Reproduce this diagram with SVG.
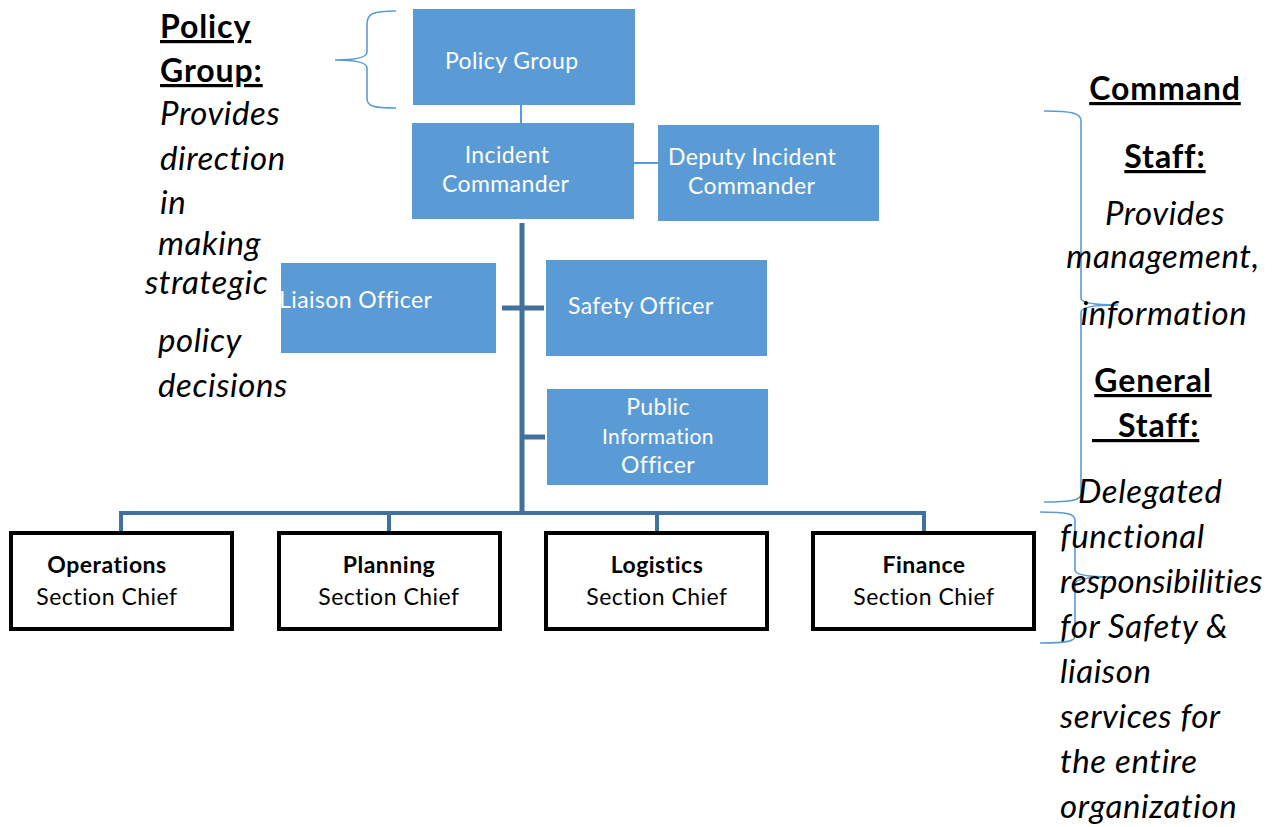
<svg xmlns="http://www.w3.org/2000/svg" width="1279" height="827" viewBox="0 0 1279 827">
<style>
.box{fill:#5B9BD5;}
.wt{fill:#fff;font-family:Lato,"Liberation Sans",sans-serif;font-size:23px;letter-spacing:0.4px;}
.sec{fill:#fff;stroke:#000;stroke-width:4;}
.st{fill:#000;font-family:Lato,"Liberation Sans",sans-serif;font-size:23px;letter-spacing:0.5px;text-anchor:middle;}
.hd{fill:#000;font-family:Lato,"Liberation Sans",sans-serif;font-size:32px;letter-spacing:0.9px;font-weight:bold;text-decoration:underline;}
.it{fill:#000;font-family:Lato,"Liberation Sans",sans-serif;font-size:33px;letter-spacing:0.6px;font-style:italic;}
.trunk{stroke:#41719C;stroke-width:5;fill:none;}
.thin{stroke:#5B9BD5;stroke-width:2;fill:none;}
.bus{stroke:#41719C;stroke-width:4;fill:none;}
.brace{stroke:#5B9BD5;stroke-width:1.6;fill:none;}
</style>
<g id="connectors">
<line class="thin" x1="521" y1="105" x2="521" y2="123"/>
<line class="thin" x1="634" y1="163" x2="658" y2="163"/>
<line class="trunk" x1="522" y1="223" x2="522" y2="512"/>
<line class="trunk" x1="502" y1="308" x2="544" y2="308"/>
<line class="trunk" x1="522" y1="437" x2="545" y2="437"/>
<path class="bus" d="M121 531 V513 H924 V531 M389 513 V531 M657 513 V531"/>
</g>
<g id="braces">
<path class="brace" d="M396 11 C372 11 367 14 367 24 V52 C367 58 355 60 335 60 C355 60 367 62 367 68 V98 C367 106 372 108 396 108"/>
<path class="brace" d="M1044 111 C1072 111 1081 113 1081 121 V298 C1081 303 1095 305 1118 305 C1095 305 1081 307 1081 312 V494 C1081 500 1072 502 1044 502"/>
<path class="brace" d="M1040 512 C1068 512 1075 514 1075 520 V570 C1075 575 1090 577 1112 577 C1090 577 1075 579 1075 584 V636 C1075 641 1068 643 1040 643"/>
</g>
<g id="policy-group">
<rect class="box" x="413" y="9" width="222" height="96"/>
<text class="wt" x="445" y="69">Policy Group</text>
</g>
<g id="incident-commander">
<rect class="box" x="412" y="123" width="222" height="96"/>
<text class="wt" x="507" y="163" text-anchor="middle">Incident</text>
<text class="wt" x="442" y="192">Commander</text>
</g>
<g id="deputy-incident-commander">
<rect class="box" x="658" y="125" width="221" height="96"/>
<text class="wt" x="668" y="165">Deputy Incident</text>
<text class="wt" x="688" y="194">Commander</text>
</g>
<g id="liaison-officer">
<rect class="box" x="281" y="263" width="215" height="90"/>
<text class="wt" x="279" y="308">Liaison Officer</text>
</g>
<g id="safety-officer">
<rect class="box" x="546" y="260" width="221" height="96"/>
<text class="wt" x="568" y="314">Safety Officer</text>
</g>
<g id="public-information-officer">
<rect class="box" x="547" y="389" width="221" height="96"/>
<text class="wt" x="658" y="415" text-anchor="middle">Public</text>
<text class="wt" x="658" y="444" text-anchor="middle" style="font-size:21px">Information</text>
<text class="wt" x="658" y="473" text-anchor="middle">Officer</text>
</g>
<g id="operations">
<rect class="sec" x="11" y="533" width="221" height="96"/>
<text class="st" x="107" y="573" font-weight="bold">Operations</text>
<text class="st" x="107" y="605">Section Chief</text>
</g>
<g id="planning">
<rect class="sec" x="279" y="533" width="221" height="96"/>
<text class="st" x="389" y="573" font-weight="bold">Planning</text>
<text class="st" x="389" y="605">Section Chief</text>
</g>
<g id="logistics">
<rect class="sec" x="546" y="533" width="221" height="96"/>
<text class="st" x="657" y="573" font-weight="bold">Logistics</text>
<text class="st" x="657" y="605">Section Chief</text>
</g>
<g id="finance">
<rect class="sec" x="813" y="533" width="221" height="96"/>
<text class="st" x="924" y="573" font-weight="bold">Finance</text>
<text class="st" x="924" y="605">Section Chief</text>
</g>
<g id="policy-text">
<text class="hd" x="160" y="38">Policy</text>
<text class="hd" x="160" y="82">Group: </text>
<text class="it" x="160" y="125">Provides</text>
<text class="it" x="160" y="170">direction</text>
<text class="it" x="160" y="214">in</text>
<text class="it" x="158" y="255">making</text>
<text class="it" x="145" y="294">strategic</text>
<text class="it" x="158" y="352">policy</text>
<text class="it" x="158" y="397">decisions</text>
</g>
<g id="staff-text">
<text class="hd" x="1165" y="100" text-anchor="middle">Command</text>
<text class="hd" x="1165" y="168" text-anchor="middle">Staff:</text>
<text class="it" x="1165" y="225" text-anchor="middle">Provides</text>
<text class="it" x="1163" y="268" text-anchor="middle">management,</text>
<text class="it" x="1164" y="325" text-anchor="middle">information</text>
<text class="hd" x="1153" y="392" text-anchor="middle">General</text>
<text class="hd" x="1092" y="437" xml:space="preserve">   Staff:</text>
<text class="it" x="1078" y="503">Delegated</text>
<text class="it" x="1060" y="548">functional</text>
<text class="it" x="1060" y="593" style="letter-spacing:0.1px">responsibilities</text>
<text class="it" x="1060" y="638">for Safety &amp;</text>
<text class="it" x="1060" y="683">liaison</text>
<text class="it" x="1060" y="728">services for</text>
<text class="it" x="1060" y="773">the entire</text>
<text class="it" x="1060" y="818">organization</text>
</g>
</svg>
